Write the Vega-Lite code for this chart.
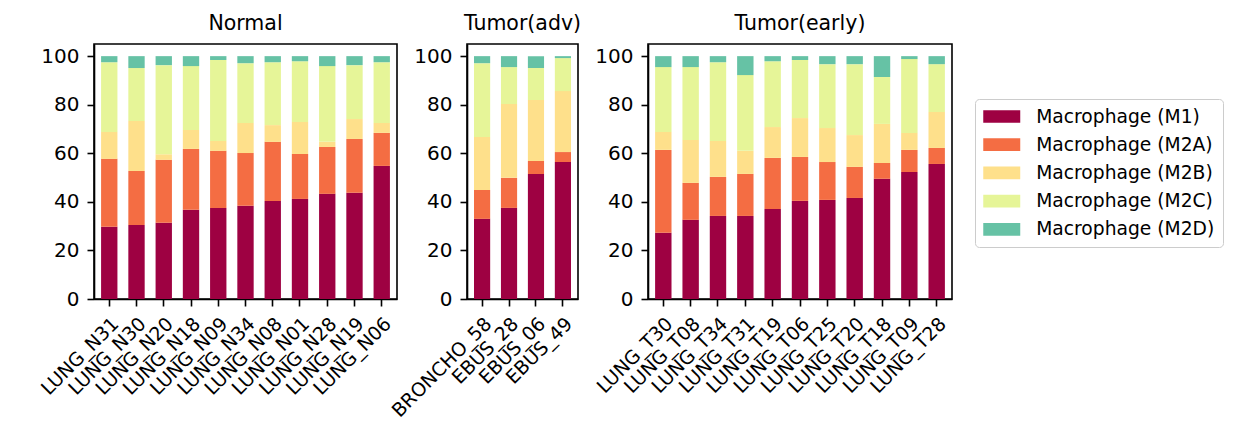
{
  "$schema": "https://vega.github.io/schema/vega-lite/v6.json",
  "background": "white",
  "padding": {"left": 36, "top": 12, "right": 5, "bottom": 5},
  "bounds": "flush",
  "spacing": 70,
  "config": {
    "font": "DejaVu Sans",
    "view": {"stroke": "black", "strokeWidth": 1.6},
    "axis": {
      "grid": false,
      "domainColor": "black",
      "domainWidth": 1.6,
      "tickColor": "black",
      "tickWidth": 1.6,
      "tickSize": 7,
      "labelColor": "black",
      "labelFont": "DejaVu Sans",
      "labelFontSize": 20,
      "labelPadding": 8
    },
    "title": {"fontSize": 20.5, "fontWeight": "normal", "color": "black", "font": "DejaVu Sans", "offset": 10},
    "legend": {
      "orient": "none",
      "legendX": 881,
      "legendY": 55,
      "titlePadding": 0,
      "symbolType": "M-2,-0.686H2V0.686H-2Z",
      "symbolSize": 342,
      "symbolOffset": 9.25,
      "symbolStrokeWidth": 0,
      "symbolOpacity": 1,
      "labelFont": "DejaVu Sans",
      "labelFontSize": 18.7,
      "labelColor": "black",
      "labelOffset": 25,
      "labelLimit": 400,
      "rowPadding": 8.2,
      "padding": 8,
      "strokeColor": "#cccccc",
      "fillColor": "white",
      "cornerRadius": 4
    }
  },
  "data": {
    "values": [
      {"group": "Normal", "sample": "LUNG_N31", "Macrophage (M1)": 29.7, "Macrophage (M2A)": 28.0, "Macrophage (M2B)": 11.1, "Macrophage (M2C)": 28.7, "Macrophage (M2D)": 2.5},
      {"group": "Normal", "sample": "LUNG_N30", "Macrophage (M1)": 30.5, "Macrophage (M2A)": 22.2, "Macrophage (M2B)": 20.6, "Macrophage (M2C)": 21.8, "Macrophage (M2D)": 4.9},
      {"group": "Normal", "sample": "LUNG_N20", "Macrophage (M1)": 31.4, "Macrophage (M2A)": 25.9, "Macrophage (M2B)": 2.3, "Macrophage (M2C)": 36.7, "Macrophage (M2D)": 3.7},
      {"group": "Normal", "sample": "LUNG_N18", "Macrophage (M1)": 36.7, "Macrophage (M2A)": 25.1, "Macrophage (M2B)": 7.8, "Macrophage (M2C)": 26.3, "Macrophage (M2D)": 4.1},
      {"group": "Normal", "sample": "LUNG_N09", "Macrophage (M1)": 37.5, "Macrophage (M2A)": 23.5, "Macrophage (M2B)": 4.1, "Macrophage (M2C)": 33.3, "Macrophage (M2D)": 1.6},
      {"group": "Normal", "sample": "LUNG_N34", "Macrophage (M1)": 38.4, "Macrophage (M2A)": 21.7, "Macrophage (M2B)": 12.4, "Macrophage (M2C)": 24.6, "Macrophage (M2D)": 2.9},
      {"group": "Normal", "sample": "LUNG_N08", "Macrophage (M1)": 40.4, "Macrophage (M2A)": 24.3, "Macrophage (M2B)": 6.9, "Macrophage (M2C)": 25.9, "Macrophage (M2D)": 2.5},
      {"group": "Normal", "sample": "LUNG_N01", "Macrophage (M1)": 41.2, "Macrophage (M2A)": 18.5, "Macrophage (M2B)": 13.2, "Macrophage (M2C)": 25.0, "Macrophage (M2D)": 2.1},
      {"group": "Normal", "sample": "LUNG_N28", "Macrophage (M1)": 43.3, "Macrophage (M2A)": 19.3, "Macrophage (M2B)": 2.1, "Macrophage (M2C)": 31.2, "Macrophage (M2D)": 4.1},
      {"group": "Normal", "sample": "LUNG_N19", "Macrophage (M1)": 43.7, "Macrophage (M2A)": 22.2, "Macrophage (M2B)": 8.2, "Macrophage (M2C)": 22.2, "Macrophage (M2D)": 3.7},
      {"group": "Normal", "sample": "LUNG_N06", "Macrophage (M1)": 54.8, "Macrophage (M2A)": 13.6, "Macrophage (M2B)": 4.1, "Macrophage (M2C)": 25.0, "Macrophage (M2D)": 2.5},
      {"group": "Tumor(adv)", "sample": "BRONCHO_58", "Macrophage (M1)": 33.0, "Macrophage (M2A)": 11.9, "Macrophage (M2B)": 21.8, "Macrophage (M2C)": 30.4, "Macrophage (M2D)": 2.9},
      {"group": "Tumor(adv)", "sample": "EBUS_28", "Macrophage (M1)": 37.5, "Macrophage (M2A)": 12.4, "Macrophage (M2B)": 30.4, "Macrophage (M2C)": 15.2, "Macrophage (M2D)": 4.5},
      {"group": "Tumor(adv)", "sample": "EBUS_06", "Macrophage (M1)": 51.5, "Macrophage (M2A)": 5.3, "Macrophage (M2B)": 25.1, "Macrophage (M2C)": 13.2, "Macrophage (M2D)": 4.9},
      {"group": "Tumor(adv)", "sample": "EBUS_49", "Macrophage (M1)": 56.4, "Macrophage (M2A)": 4.1, "Macrophage (M2B)": 25.1, "Macrophage (M2C)": 13.6, "Macrophage (M2D)": 0.8},
      {"group": "Tumor(early)", "sample": "LUNG_T30", "Macrophage (M1)": 27.3, "Macrophage (M2A)": 34.1, "Macrophage (M2B)": 7.4, "Macrophage (M2C)": 26.7, "Macrophage (M2D)": 4.5},
      {"group": "Tumor(early)", "sample": "LUNG_T08", "Macrophage (M1)": 32.6, "Macrophage (M2A)": 15.2, "Macrophage (M2B)": 17.7, "Macrophage (M2C)": 30.0, "Macrophage (M2D)": 4.5},
      {"group": "Tumor(early)", "sample": "LUNG_T34", "Macrophage (M1)": 34.2, "Macrophage (M2A)": 16.1, "Macrophage (M2B)": 14.8, "Macrophage (M2C)": 32.4, "Macrophage (M2D)": 2.5},
      {"group": "Tumor(early)", "sample": "LUNG_T31", "Macrophage (M1)": 34.2, "Macrophage (M2A)": 17.3, "Macrophage (M2B)": 9.5, "Macrophage (M2C)": 31.2, "Macrophage (M2D)": 7.8},
      {"group": "Tumor(early)", "sample": "LUNG_T19", "Macrophage (M1)": 37.1, "Macrophage (M2A)": 21.0, "Macrophage (M2B)": 12.7, "Macrophage (M2C)": 27.1, "Macrophage (M2D)": 2.1},
      {"group": "Tumor(early)", "sample": "LUNG_T06", "Macrophage (M1)": 40.4, "Macrophage (M2A)": 18.1, "Macrophage (M2B)": 16.0, "Macrophage (M2C)": 23.9, "Macrophage (M2D)": 1.6},
      {"group": "Tumor(early)", "sample": "LUNG_T25", "Macrophage (M1)": 40.8, "Macrophage (M2A)": 15.6, "Macrophage (M2B)": 14.0, "Macrophage (M2C)": 26.3, "Macrophage (M2D)": 3.3},
      {"group": "Tumor(early)", "sample": "LUNG_T20", "Macrophage (M1)": 41.6, "Macrophage (M2A)": 12.8, "Macrophage (M2B)": 13.1, "Macrophage (M2C)": 29.2, "Macrophage (M2D)": 3.3},
      {"group": "Tumor(early)", "sample": "LUNG_T18", "Macrophage (M1)": 49.5, "Macrophage (M2A)": 6.5, "Macrophage (M2B)": 16.1, "Macrophage (M2C)": 19.3, "Macrophage (M2D)": 8.6},
      {"group": "Tumor(early)", "sample": "LUNG_T09", "Macrophage (M1)": 52.3, "Macrophage (M2A)": 9.1, "Macrophage (M2B)": 7.0, "Macrophage (M2C)": 30.4, "Macrophage (M2D)": 1.2},
      {"group": "Tumor(early)", "sample": "LUNG_T28", "Macrophage (M1)": 55.6, "Macrophage (M2A)": 6.6, "Macrophage (M2B)": 14.8, "Macrophage (M2C)": 19.7, "Macrophage (M2D)": 3.3}
    ]
  },
  "transform": [
    {"fold": ["Macrophage (M1)", "Macrophage (M2A)", "Macrophage (M2B)", "Macrophage (M2C)", "Macrophage (M2D)"], "as": ["cell_type", "percent"]}
  ],
  "hconcat": [
    {
      "title": "Normal",
      "width": 303,
      "height": 255,
      "transform": [{"filter": "datum.group === 'Normal'"}],
      "mark": {"type": "bar"},
      "encoding": {
        "x": {"field": "sample", "type": "nominal", "sort": null, "title": null,
              "scale": {"paddingInner": 0.4, "paddingOuter": 0.26},
              "axis": {"labelAngle": -45, "labelFontSize": 19}},
        "y": {"field": "percent", "type": "quantitative", "stack": "zero", "title": null,
              "scale": {"domain": [0, 105], "nice": false},
              "axis": {"values": [0, 20, 40, 60, 80, 100]}},
        "color": {"field": "cell_type", "type": "nominal",
                  "scale": {"domain": ["Macrophage (M1)", "Macrophage (M2A)", "Macrophage (M2B)", "Macrophage (M2C)", "Macrophage (M2D)"],
                            "range": ["#9e0142", "#f46d43", "#fee08b", "#e6f598", "#66c2a5"]},
                  "legend": {"title": null}},
        "order": {"field": "cell_type", "type": "nominal", "sort": "ascending"}
      }
    },
    {
      "title": "Tumor(adv)",
      "width": 111,
      "height": 255,
      "transform": [{"filter": "datum.group === 'Tumor(adv)'"}],
      "mark": {"type": "bar"},
      "encoding": {
        "x": {"field": "sample", "type": "nominal", "sort": null, "title": null,
              "scale": {"paddingInner": 0.4, "paddingOuter": 0.26},
              "axis": {"labelAngle": -45, "labelFontSize": 19}},
        "y": {"field": "percent", "type": "quantitative", "stack": "zero", "title": null,
              "scale": {"domain": [0, 105], "nice": false},
              "axis": {"values": [0, 20, 40, 60, 80, 100]}},
        "color": {"field": "cell_type", "type": "nominal", "legend": {"title": null}},
        "order": {"field": "cell_type", "type": "nominal", "sort": "ascending"}
      }
    },
    {
      "title": "Tumor(early)",
      "width": 304,
      "height": 255,
      "transform": [{"filter": "datum.group === 'Tumor(early)'"}],
      "mark": {"type": "bar"},
      "encoding": {
        "x": {"field": "sample", "type": "nominal", "sort": null, "title": null,
              "scale": {"paddingInner": 0.4, "paddingOuter": 0.26},
              "axis": {"labelAngle": -45, "labelFontSize": 19}},
        "y": {"field": "percent", "type": "quantitative", "stack": "zero", "title": null,
              "scale": {"domain": [0, 105], "nice": false},
              "axis": {"values": [0, 20, 40, 60, 80, 100]}},
        "color": {"field": "cell_type", "type": "nominal", "legend": {"title": null}},
        "order": {"field": "cell_type", "type": "nominal", "sort": "ascending"}
      }
    }
  ]
}
